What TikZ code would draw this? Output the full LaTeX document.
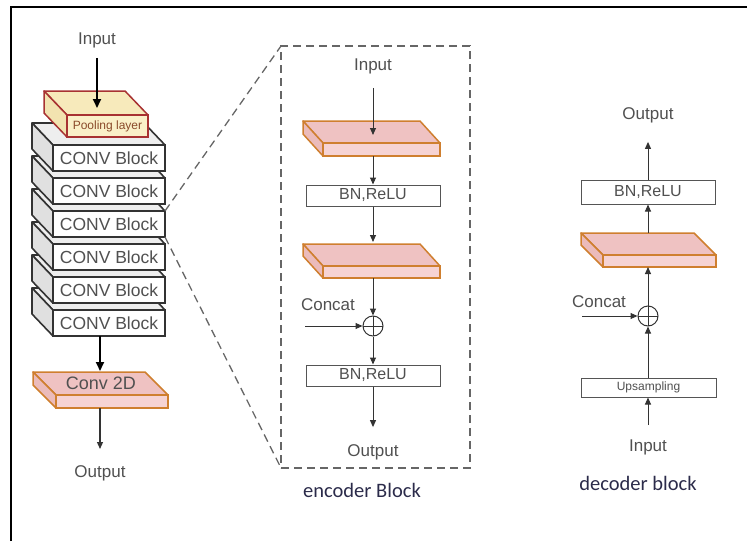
\documentclass[tikz,border=0pt]{standalone}
\usepackage{fontspec}
\setmainfont{Liberation Sans}
\newfontfamily\capfont{Carlito}
\usetikzlibrary{arrows.meta}
\definecolor{txt}{HTML}{505050}
\definecolor{convd}{HTML}{333333}
\definecolor{convtopc}{HTML}{EEEEEE}
\definecolor{convsidec}{HTML}{E0E0E0}
\definecolor{pinkd}{HTML}{CF7F2F}
\definecolor{pinktopc}{HTML}{EFC2C2}
\definecolor{pinksidec}{HTML}{EBBBBB}
\definecolor{pinkfrontc}{HTML}{F6D3D3}
\definecolor{poold}{HTML}{A83232}
\definecolor{pooltopc}{HTML}{F7EABB}
\definecolor{poolsidec}{HTML}{F2E3B0}
\definecolor{poolfrontc}{HTML}{FAF0C8}
\definecolor{pooltxt}{HTML}{8A4A2A}
\definecolor{arrc}{HTML}{333333}
\definecolor{boxd}{HTML}{555555}
\definecolor{dashc}{HTML}{666666}
\definecolor{capc}{HTML}{2B2B4A}
\newcommand\mkslab[9]{%
  \filldraw[#1top] (#3,#4) -- (#3-#7,#4-#8) -- (#5-#7,#4-#8) -- (#5,#4) -- cycle;
  \filldraw[#1side] (#3,#4) -- (#3-#7,#4-#8) -- (#3-#7,#6-#8) -- (#3,#6) -- cycle;
  \node[#1front, anchor=north west, outer sep=0pt, inner sep=0pt,
        minimum width=#5-#3, minimum height=#6-#4] (#2) at (#3,#4) {#9};
}
\tikzset{
  lbl/.style={font=\fontsize{17}{20}\selectfont, text=txt, inner sep=0pt},
  captxt/.style={font=\capfont\fontsize{20.5}{24}\selectfont, text=capc, inner sep=0pt},
  bigarr/.style={draw=black, line width=1.8pt, -{Triangle[length=9pt,width=8pt]}},
  arr/.style={draw=arrc, line width=1pt, -{Triangle[length=7pt,width=6pt]}},
  convtop/.style={fill=convtopc, draw=convd, line width=1.6pt, line join=round},
  convside/.style={fill=convsidec, draw=convd, line width=1.6pt, line join=round},
  convfront/.style={rectangle, fill=white, draw=convd, line width=1.6pt,
        font=\fontsize{17.5}{20}\selectfont, text=txt},
  pinktop/.style={fill=pinktopc, draw=pinkd, line width=1.5pt, line join=round},
  pinkside/.style={fill=pinksidec, draw=pinkd, line width=1.5pt, line join=round},
  pinkfront/.style={rectangle, fill=pinkfrontc, draw=pinkd, line width=1.5pt},
  pooltop/.style={fill=pooltopc, draw=poold, line width=1.5pt, line join=round},
  poolside/.style={fill=poolsidec, draw=poold, line width=1.5pt, line join=round},
  poolfront/.style={rectangle, fill=poolfrontc, draw=poold, line width=1.5pt,
        font=\fontsize{12}{14}\selectfont, text=pooltxt},
  bnbox/.style={rectangle, draw=boxd, line width=1pt, fill=white, inner sep=0pt,
        minimum width=134pt, minimum height=21pt,
        font=\fontsize{16}{18}\selectfont, text=txt},
  sumc/.style={circle, draw=arrc, line width=1pt, minimum size=20pt, inner sep=0pt,
        path picture={\draw[arrc, line width=0.8pt]
          (path picture bounding box.north) -- (path picture bounding box.south)
          (path picture bounding box.west) -- (path picture bounding box.east);}},
  zoomline/.style={draw=dashc, line width=1.3pt, dash pattern=on 8pt off 5pt},
}
\begin{document}
\begin{tikzpicture}[x=1pt, y=-1pt]
\useasboundingbox (0,0) rectangle (747,541);
% frame
\draw[black, line width=2.5pt] (11,541) -- (11,7) -- (747,7);

% ---------- left stack ----------
\foreach \i in {5,4,3,2,1,0}{
  \pgfmathsetmacro\yt{145+33*\i}
  \pgfmathsetmacro\yb{171+33*\i}
  \mkslab{conv}{c\i}{53}{\yt}{165}{\yb}{21}{22}{CONV Block}
}
\mkslab{pool}{pool}{67}{115}{148}{137}{23}{24}{Pooling layer}
\node[lbl] (inL) at (97,40) {Input};
\coordinate (poolin) at (97,108);
\draw[bigarr, shorten <=10pt] (inL.south) -- (poolin);

\mkslab{pink}{cv2}{56}{395}{168}{408}{23}{23}{}
\node[font=\fontsize{18}{20}\selectfont, text=txt, inner sep=0pt] (cv2lab) at (101,383) {Conv 2D};
\coordinate (cvtop) at (100,371);
\draw[bigarr] (c5.south -| cvtop) -- (cvtop);
\node[lbl] (outL) at (100,473) {Output};
\coordinate (outLa) at (100,449);
\draw[arr, line width=1.2pt] (cv2.south -| outLa) -- (outLa);

% ---------- encoder block ----------
\node[draw=dashc, line width=1.3pt, dash pattern=on 8pt off 5pt, rectangle,
      minimum width=189pt, minimum height=422pt, inner sep=0pt, outer sep=0pt,
      anchor=north west] (encbox) at (281,46) {};
\draw[zoomline] (c2.north east) -- (encbox.north west);
\draw[zoomline] (c2.south east) -- (encbox.south west);

\node[lbl] (inE) at (373,66) {Input};
\mkslab{pink}{e1}{323}{143}{440}{156}{20}{22}{}
\coordinate (e1in) at (373,135);
\draw[arr, shorten <=14pt] (inE.south) -- (e1in);
\node[bnbox] (bn1) at (373,195.5) {BN,ReLU};
\draw[arr] (e1.south -| bn1) -- (bn1.north);
\mkslab{pink}{e2}{323}{266}{440}{278}{20}{22}{}
\coordinate (e2in) at (373,242);
\draw[arr] (bn1.south) -- (e2in);
\node[sumc] (s1) at (373,326) {};
\draw[arr] (e2.south -| s1) -- (s1.north);
\node[lbl] (ccE) at (328,305) {Concat};
\coordinate (ccEin) at (305,326);
\draw[arr] (ccEin) -- (s1.west);
\node[bnbox] (bn2) at (373,375.5) {BN,ReLU};
\draw[arr] (s1.south) -- (bn2.north);
\node[lbl] (outE) at (373,452) {Output};
\draw[arr, shorten >=17pt] (bn2.south) -- (outE.north);
\node[captxt] (encl) at (362,490) {encoder Block};

% ---------- decoder block ----------
\node[lbl] (outR) at (648,115) {Output};
\node[bnbox, minimum width=134pt, minimum height=24pt] (bn3) at (648,192) {BN,ReLU};
\draw[arr, shorten >=19pt] (bn3.north) -- (outR.south);
\mkslab{pink}{d1}{603}{255}{716}{267}{22}{22}{}
\coordinate (d1out) at (648,233);
\draw[arr] (d1out) -- (bn3.south);
\node[sumc] (s2) at (648,316) {};
\draw[arr] (s2.north) -- (d1.south -| s2);
\node[lbl] (ccD) at (599,302) {Concat};
\coordinate (ccDin) at (582,316);
\draw[arr] (ccDin) -- (s2.west);
\node[bnbox, minimum width=135pt, minimum height=19pt,
      font=\fontsize{12}{14}\selectfont] (ups) at (648.5,387.5) {Upsampling};
\draw[arr] (ups.north -| s2) -- (s2.south);
\node[lbl] (inR) at (648,447) {Input};
\draw[arr, shorten <=14pt] (inR.north) -- (ups.south -| inR);
\node[captxt] (decl) at (638,483) {decoder block};
\end{tikzpicture}
\end{document}
